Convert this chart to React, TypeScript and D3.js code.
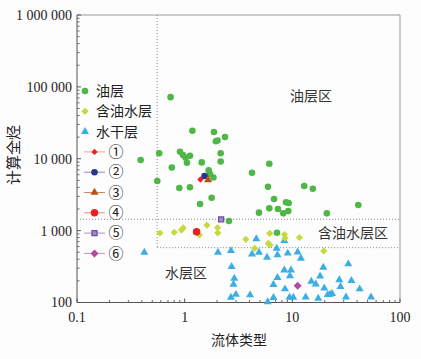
import React from "react";
import * as d3 from "d3";

// ---- data (x: 流体类型, y: 计算全烃) ----
const oilX = [0.74, 1.18, 1.87, 2.37, 1.95, 2.02, 0.39, 0.58, 0.905, 0.965, 1.02, 1.12, 1.05, 1.44, 0.76, 2.16, 2.16, 1.67, 1.85, 6.11, 4.22, 5.94, 12.9, 15.5, 1.78, 6.76, 8.73, 9.25, 1.39, 41.0, 6.11, 7.36, 9.17, 8.24, 4.9, 20.9, 2.58, 0.557, 0.892, 1.12, 7.2, 1.72];
const oilY = [72000, 24500, 23600, 20100, 17500, 17900, 9600, 11900, 12500, 11300, 10300, 11000, 8800, 8900, 7550, 11950, 9160, 6900, 5480, 8530, 6400, 4080, 4180, 3830, 2870, 2750, 2480, 2420, 2350, 2270, 2040, 2000, 1870, 1740, 1780, 1740, 1360, 4900, 3920, 4010, 935, 6130];

const owX = [0.59, 0.8, 0.935, 0.97, 1.61, 2.02, 2.03, 1.37, 3.7, 4.47, 5.98, 6.2, 6.16, 8.46, 8.55, 11.65, 19.6];
const owY = [927, 948, 1020, 1090, 1190, 1100, 933, 869, 757, 568, 666, 631, 918, 883, 790, 802, 521];

const dryX = [0.422, 2.04, 2.69, 2.73, 2.89, 2.84, 2.69, 2.99, 4.05, 4.63, 4.22, 4.9, 5.82, 7.16, 7.28, 8.42, 9.07, 11.2, 12.0, 8.42, 9.72, 7.28, 9.51, 6.68, 8.55, 6.68, 9.41, 10.2, 13.3, 5.9, 15.0, 16.5, 18.1, 19.4, 19.8, 17.4, 21.3, 22.4, 23.4, 27.3, 28.0, 33.1, 35.4, 42.2, 31.5, 53.8];
const dryY = [499, 499, 524, 315, 216, 179, 118, 129, 127, 765, 470, 499, 425, 564, 458, 724, 484, 501, 410, 281, 281, 221, 235, 177, 154, 117, 118, 118, 119, 102, 196, 180, 232, 307, 158, 114, 128, 130, 133, 206, 166, 343, 201, 154, 119, 119];

const specLabels = ["①", "②", "③", "④", "⑤", "⑥"];
const specX = [1.4, 1.53, 1.65, 1.29, 2.18, 11.2];
const specY = [5140, 5750, 5060, 966, 1430, 171];

const seriesNames = ["油层", "含油水层", "水干层"];
const zoneNames = ["油层区", "含油水层区", "水层区"];
const zoneX = 0.555;
const zoneYUpper = 1440;
const zoneYLower = 580;

const xTickVals = [0.1, 1, 10, 100];
const xTickLabels = ["0.1", "1", "10", "100"];
const yTickVals = [100, 1000, 10000, 100000, 1000000];
const yTickLabels = ["100", "1 000", "10 000", "100 000", "1 000 000"];

// ---- styles ----
const C_OIL = "#4fb648";
const C_OW = "#c6da3e";
const C_DRY = "#3caee4";
const specStyle = [
  { shape: "diamond", fill: "#e8222a", stroke: "#e8222a", line: "#f0a090" },
  { shape: "circle", fill: "#27358f", stroke: "#27358f", line: "#8c88c8" },
  { shape: "triangle", fill: "#b3531c", stroke: "#b3531c", line: "#d48a5a" },
  { shape: "circle", fill: "#e8201e", stroke: "#e8201e", line: "#ee8878" },
  { shape: "square", fill: "#a08ac8", stroke: "#6b4c9e", line: "#a898cc" },
  { shape: "diamond", fill: "#b04aa0", stroke: "#b04aa0", line: "#d090c8" },
];

const W = 421, H = 359;
const L = 77, R = 400, T = 15, B = 302.5;

const x = d3.scaleLog().domain([0.1, 100]).range([L, R]);
const y = d3.scaleLog().domain([100, 1000000]).range([B, T]);

const circ = d3.symbol().type(d3.symbolCircle).size(34)() as string;
const tri = d3.symbol().type(d3.symbolTriangle).size(28)() as string;
const sq = d3.symbol().type(d3.symbolSquare).size(26)() as string;
const sqBig = d3.symbol().type(d3.symbolSquare).size(32)() as string;
const sqSmall = d3.symbol().type(d3.symbolSquare).size(20)() as string;
const circBig = d3.symbol().type(d3.symbolCircle).size(44)() as string;

function shapePath(s: string, i: number) {
  if (s === "circle") return i === 3 ? circBig : circ;
  if (s === "triangle") return tri;
  if (s === "square") return sq;
  return i === 0 ? sqSmall : sqBig;
}
function rot(s: string) {
  return s === "diamond" ? 45 : 0;
}

const serif = "'Liberation Serif','DejaVu Serif',serif";
const cjk = "'Noto Sans CJK SC','Noto Sans',sans-serif";

export default function App() {
  const minorX: number[] = [];
  for (let e = -1; e < 2; e++) for (let k = 2; k <= 9; k++) minorX.push(k * Math.pow(10, e));
  const minorY: number[] = [];
  for (let e = 2; e < 6; e++) for (let k = 2; k <= 9; k++) minorY.push(k * Math.pow(10, e));

  const legY = (i: number) => 91 + i * 20.3;

  return (
    <svg width={W} height={H} style={{ position: "absolute", left: 0, top: 0, background: "#fdfdfd" }}>
      <rect x={0} y={0} width={W} height={H} fill="#fdfdfd" />
      {/* frame */}
      <line x1={L} x2={R} y1={T} y2={T} stroke="#999" strokeWidth={1} />
      <line x1={R} x2={R} y1={T} y2={B} stroke="#999" strokeWidth={1} />
      <line x1={L} x2={R} y1={B} y2={B} stroke="#555" strokeWidth={1} />
      <line x1={L} x2={L} y1={T} y2={B} stroke="#555" strokeWidth={1} />

      {/* ticks */}
      {xTickVals.map((v, i) => (
        <g key={"xt" + i}>
          <line x1={x(v)} x2={x(v)} y1={B} y2={B - 4} stroke="#555" />
          <text x={x(v)} y={B + 19} textAnchor="middle" fontFamily={serif} fontSize={14} fill="#222">
            {xTickLabels[i]}
          </text>
        </g>
      ))}
      {minorX.map((v, i) => (
        <line key={"xm" + i} x1={x(v)} x2={x(v)} y1={B} y2={B - 2.5} stroke="#666" />
      ))}
      {yTickVals.map((v, i) => (
        <g key={"yt" + i}>
          <line x1={L} x2={L + 4} y1={y(v)} y2={y(v)} stroke="#555" />
          <text x={72} y={y(v)} dy="0.35em" textAnchor="end" fontFamily={serif} fontSize={14} fill="#222">
            {yTickLabels[i]}
          </text>
        </g>
      ))}
      {minorY.map((v, i) => (
        <line key={"ym" + i} x1={L} x2={L + 2.5} y1={y(v)} y2={y(v)} stroke="#666" />
      ))}

      {/* zone lines */}
      <g stroke="#8a8a8a" strokeWidth={1} strokeDasharray="1,2" fill="none">
        <line x1={x(zoneX)} x2={x(zoneX)} y1={T} y2={y(zoneYLower)} />
        <line x1={L} x2={R} y1={y(zoneYUpper)} y2={y(zoneYUpper)} />
        <line x1={x(zoneX)} x2={R} y1={y(zoneYLower)} y2={y(zoneYLower)} />
      </g>

      {/* zone labels */}
      <text x={311} y={96} dy="0.35em" textAnchor="middle" fontFamily={cjk} fontSize={14} fill="#333">{zoneNames[0]}</text>
      <text x={353} y={233} dy="0.35em" textAnchor="middle" fontFamily={cjk} fontSize={14} fill="#333">{zoneNames[1]}</text>
      <text x={186} y={273} dy="0.35em" textAnchor="middle" fontFamily={cjk} fontSize={14} fill="#333">{zoneNames[2]}</text>

      {/* points */}
      {dryX.map((v, i) => (
        <path key={"d" + i} d={tri} transform={`translate(${x(v)},${y(dryY[i])})`} fill={C_DRY} />
      ))}
      {owX.map((v, i) => (
        <path key={"w" + i} d={sq} transform={`translate(${x(v)},${y(owY[i])}) rotate(45)`} fill={C_OW} />
      ))}
      {oilX.map((v, i) => (
        <path key={"o" + i} d={circ} transform={`translate(${x(v)},${y(oilY[i])})`} fill={C_OIL} />
      ))}
      {specX.map((v, i) => (
        <path
          key={"s" + i}
          d={shapePath(specStyle[i].shape, i)}
          transform={`translate(${x(v)},${y(specY[i])}) rotate(${rot(specStyle[i].shape)})`}
          fill={specStyle[i].fill}
          stroke={specStyle[i].stroke}
          strokeWidth={specStyle[i].shape === "square" ? 1.2 : 0}
        />
      ))}

      {/* legend */}
      <path d={circ} transform={`translate(85,${legY(0)})`} fill={C_OIL} />
      <path d={sq} transform={`translate(85,${legY(1)}) rotate(45)`} fill={C_OW} />
      <path d={tri} transform={`translate(85,${legY(2)})`} fill={C_DRY} />
      {seriesNames.map((s, i) => (
        <text key={"ln" + i} x={96} y={legY(i)} dy="0.35em" fontFamily={cjk} fontSize={14} fill="#222">{s}</text>
      ))}
      {specLabels.map((s, i) => (
        <g key={"ls" + i}>
          <line x1={84} x2={105} y1={legY(i + 3)} y2={legY(i + 3)} stroke={specStyle[i].line} strokeWidth={1} />
          <path
            d={shapePath(specStyle[i].shape, i)}
            transform={`translate(94.5,${legY(i + 3)}) rotate(${rot(specStyle[i].shape)})`}
            fill={specStyle[i].fill}
            stroke={specStyle[i].stroke}
            strokeWidth={specStyle[i].shape === "square" ? 1.2 : 0}
          />
          <text x={116} y={legY(i + 3)} dy="0.35em" textAnchor="middle" fontFamily={cjk} fontSize={15} fill="#222">{s}</text>
        </g>
      ))}

      {/* axis titles */}
      <text x={239} y={340} dy="0.35em" textAnchor="middle" fontFamily={cjk} fontSize={14} fill="#222">流体类型</text>
      <text transform="translate(14,155) rotate(-90)" dy="0.35em" textAnchor="middle" fontFamily={cjk} fontSize={15} fill="#222">计算全烃</text>
    </svg>
  );
}
